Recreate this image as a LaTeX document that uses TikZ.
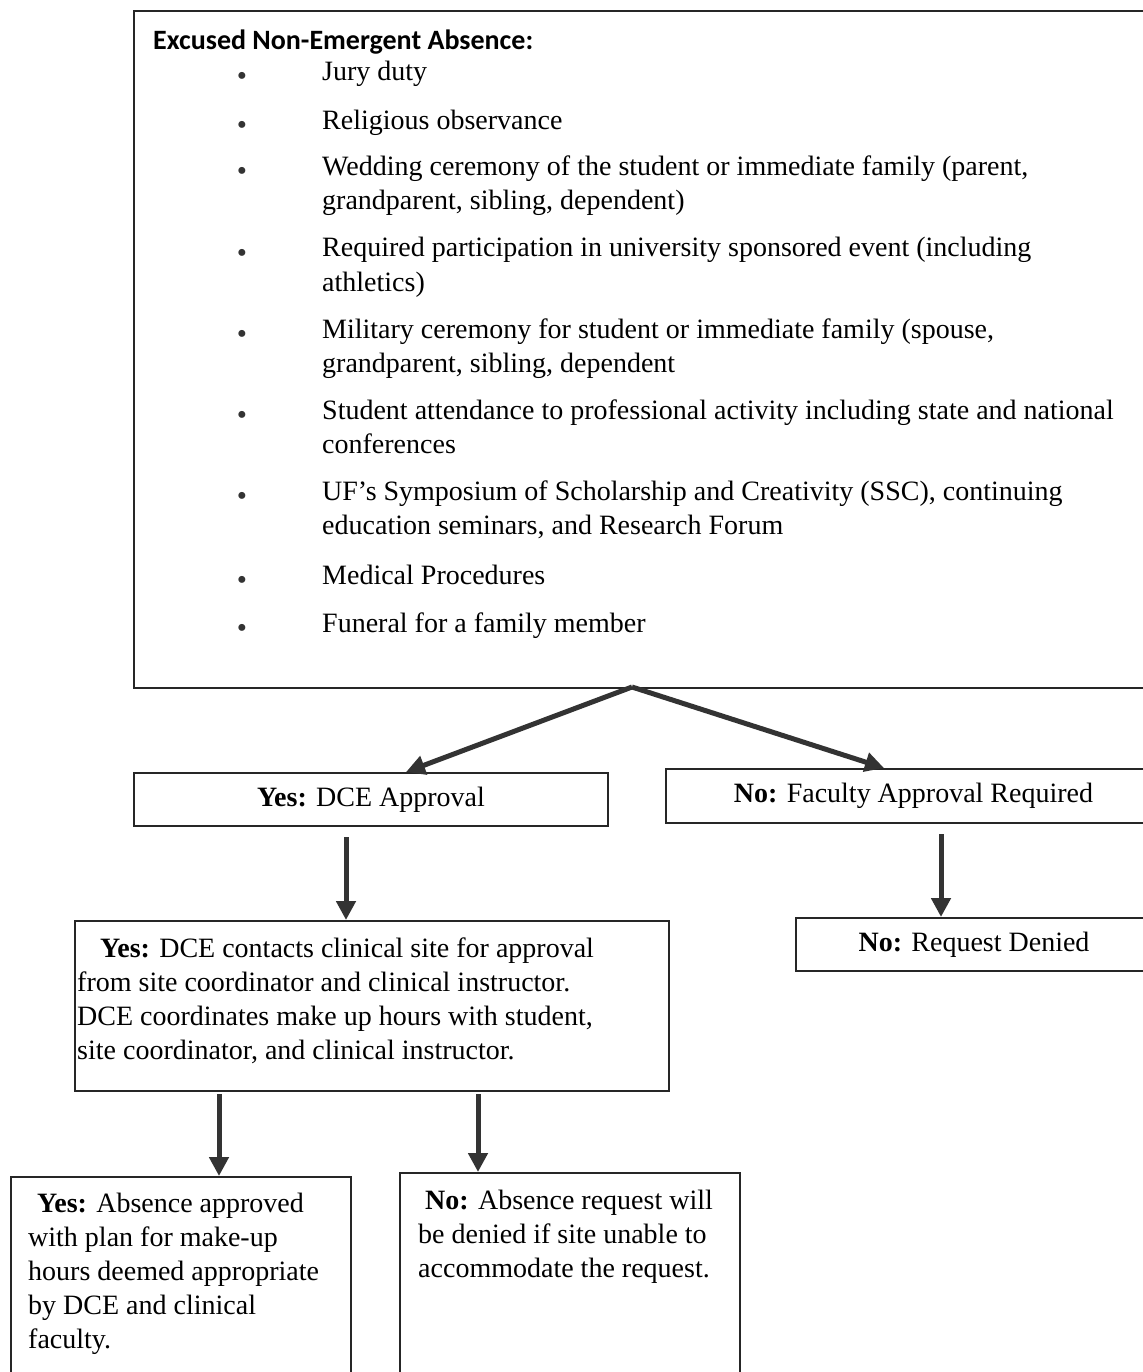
\documentclass[tikz,border=0pt]{standalone}
\usepackage{fontspec}
\setmainfont{Liberation Serif}
\newfontfamily\headfont{Carlito}
\usetikzlibrary{arrows.meta,positioning}

\newcommand{\textlines}[1]{\begin{tabular}[t]{@{}l@{}}#1\end{tabular}}

\tikzset{
  frame/.style={draw=black!85, line width=2pt, anchor=north west, inner sep=0pt},
  flow/.style={draw=black!80, line width=5pt, -{Triangle[length=19pt,width=19pt]}},
  item/.style={anchor=base west, inner sep=0pt},
  dot/.style={anchor=base, inner sep=0pt, text=black!80, font=\fontsize{29}{34}\selectfont},
  head/.style={anchor=base west, inner sep=0pt, font=\headfont\bfseries\fontsize{28}{34}\selectfont},
  boxtext/.style={inner sep=0pt}
}

\begin{document}
\begin{tikzpicture}[x=1pt, y=-1pt, every node/.style={font=\fontsize{28}{34}\selectfont}]
    \useasboundingbox (0,0) rectangle (1142,1372);

    % Nodes
    \node[frame, minimum width=1027pt, minimum height=677pt] (events) at (133,10) {};
    \node[head] (title) at (153,50) {Excused Non-Emergent Absence:};
    \foreach \y/\txt in {81/{Jury duty},
        130/{Religious observance},
        176/{Wedding ceremony of the student or immediate family (parent,\\grandparent, sibling, dependent)},
        257/{Required participation in university sponsored event (including\\athletics)},
        338/{Military ceremony for student or immediate family (spouse,\\grandparent, sibling, dependent},
        419/{Student attendance to professional activity including state and national\\conferences},
        500/{UF’s Symposium of Scholarship and Creativity (SSC), continuing\\education seminars, and Research Forum},
        584/{Medical Procedures},
        632/{Funeral for a family member}} {
      \node[dot] (dot\y) at (242,\y+5) {•};
      \node[item] (item\y) at (322,\y) {\textlines{\txt}};
    }

    \node[frame, minimum width=474pt, minimum height=53pt] (dce) at (133,772) {};
    \node[boxtext] (dcetext) at (dce.center) {\textbf{Yes:} DCE Approval};
    \node[frame, minimum width=495pt, minimum height=54pt] (faculty) at (665,768) {};
    \node[boxtext] (facultytext) at (faculty.center) {\textbf{No:} Faculty Approval Required};
    \node[frame, minimum width=594pt, minimum height=170pt] (contact) at (74,920) {};
    \node[item] (contacttext) at (77,957) {\textlines{\hspace*{23pt}\textbf{Yes:} DCE contacts clinical site for approval\\
      from site coordinator and clinical instructor.\\
      DCE coordinates make up hours with student,\\
      site coordinator, and clinical instructor.}};
    \node[frame, minimum width=356pt, minimum height=53pt] (denied) at (795,917) {};
    \node[boxtext] (deniedtext) at (denied.center) {\textbf{No:} Request Denied};
    \node[frame, minimum width=340pt, minimum height=210pt] (approved) at (10,1176) {};
    \node[item] (approvedtext) at (28,1212) {\textlines{\hspace*{9pt}\textbf{Yes:} Absence approved\\
      with plan for make-up\\
      hours deemed appropriate\\
      by DCE and clinical\\
      faculty.}};
    \node[frame, minimum width=340pt, minimum height=210pt] (refused) at (399,1172) {};
    \node[item] (refusedtext) at (418,1209) {\textlines{\hspace*{7pt}\textbf{No:} Absence request will\\
      be denied if site unable to\\
      accommodate the request.}};

    % Edges
    \coordinate (fork) at (632,687);
    \draw[flow] (fork) -- ([xshift=35pt]dce.north);
    \draw[flow] (fork) -- ([xshift=-29.5pt]faculty.north);
    \draw[flow] ([shift={(-25,10)}]dce.south) -- ([xshift=-26pt]contact.north);
    \draw[flow] ([shift={(27.5,10)}]faculty.south) -- ([xshift=-33pt]denied.north);
    \draw[flow] ([shift={(-153,2)}]contact.south) -- ([xshift=38pt]approved.north);
    \draw[flow] ([shift={(106,2)}]contact.south) -- ([xshift=-92pt]refused.north);

\end{tikzpicture}
\end{document}
